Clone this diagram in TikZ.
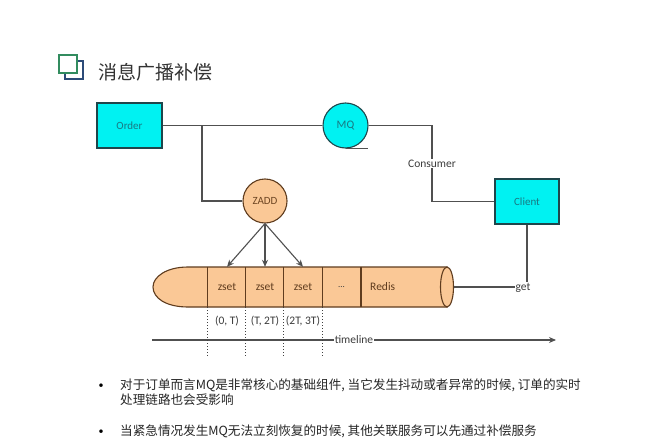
\documentclass[tikz,border=0pt]{standalone}
\usepackage{fontspec}
\setmainfont{Carlito}
\newfontfamily\cjk{Noto Sans CJK SC}
\usetikzlibrary{arrows.meta,positioning}
\definecolor{cyanfill}{RGB}{0,242,242}
\definecolor{cyanline}{RGB}{30,70,75}
\definecolor{cyantext}{RGB}{25,120,130}
\definecolor{orfill}{RGB}{250,200,150}
\definecolor{orline}{RGB}{95,60,30}
\definecolor{ortext}{RGB}{110,70,35}
\definecolor{conn}{RGB}{80,80,80}
\definecolor{lbl}{RGB}{60,60,60}
\definecolor{icgreen}{RGB}{50,140,95}
\definecolor{icblue}{RGB}{45,75,120}
\tikzset{
  cbox/.style={draw=cyanline, line width=1.1pt, fill=cyanfill, minimum width=65pt, minimum height=45pt, inner sep=0pt, text=cyantext, font=\fontsize{11}{13}\selectfont},
  ocirc/.style={circle, draw=orline, line width=1.1pt, fill=orfill, minimum size=44pt, inner sep=0pt, text=ortext, font=\fontsize{11}{13}\selectfont},
  ccirc/.style={circle, draw=cyanline, line width=1.1pt, fill=cyanfill, minimum size=45pt, inner sep=0pt, text=cyantext, font=\fontsize{11.5}{13}\selectfont},
  cell/.style={minimum width=38pt, minimum height=40pt, inner sep=0pt, text=orline, font=\fontsize{11.5}{13}\selectfont},
  conline/.style={draw=conn, line width=1.1pt},
  lab/.style={text=lbl, font=\fontsize{11.5}{13}\selectfont, inner sep=1pt},
  wlab/.style={lab, fill=white},
  arr/.style={draw=conn, line width=1.1pt, -{Stealth[length=7pt,width=6pt]}},
  bul/.style={anchor=west, text=black!85, font=\cjk\fontsize{12.6}{14}\selectfont, inner sep=0pt},
}
\begin{document}
\begin{tikzpicture}[x=1pt,y=-1pt]
\useasboundingbox[fill=white] (0,0) rectangle (650,444);
% icon
\draw[icblue, line width=2.2pt] (65,61) rectangle (83,79);
\draw[icgreen, line width=2.2pt, fill=white] (59,55) rectangle (77,73);
\node[anchor=west, inner sep=0pt, text=black!80, font=\cjk\fontsize{19}{21}\selectfont] (title) at (98,72) {消息广播补偿};
% nodes
\node[cbox] (order) at (129.5,125.5) {Order};
\node[ccirc] (mq) at (345.5,125.5) {MQ};
\node[cbox, minimum width=64pt] (client) at (527,201.5) {Client};
\node[ocirc] (zadd) at (265,201) {ZADD};
% cylinder body
\path[fill=orfill, draw=orline, line width=1.1pt] (447,267) -- (188,267) .. controls (166,267) and (153,277) .. (153,287) .. controls (153,298) and (166,307) .. (188,307) -- (447,307) -- cycle;
\draw[fill=orfill, draw=orline, line width=1.1pt] (447,287) ellipse [x radius=6.5pt, y radius=20pt];
\node[cell] (c1) at (227,287) {zset};
\node[cell] (c2) at (265,287) {zset};
\node[cell] (c3) at (303,287) {zset};
\node[cell, text=lbl] (c4) at (341.5,287) {\fontsize{9}{10}\selectfont ...};
\node[cell, minimum width=86pt, anchor=west, text width=80pt, align=left] (redis) at (361,287) {\hspace*{6pt}Redis};
\foreach \c in {c1,c2,c3,c4}{\draw[orline, line width=1.1pt] (\c.north west) -- (\c.south west);}
\draw[orline, line width=1.1pt] (redis.north west) -- (redis.south west);
\coordinate (cylR) at (453.5,287);
% connectors
\coordinate (j) at (202,125.5);
\draw[conline] (order.east) -- (mq.west);
\draw[conline] (j) |- (zadd.west);
\draw[conline] (mq.south) -- ++(22,0) coordinate (mqtail);
\coordinate (cb) at (432,125.5);
\draw[conline] (mq.east) -- (cb) |- node[pos=0.25, wlab] (cons) {Consumer} (client.west);
\draw[conline] (client.south) |- node[pos=0.5, wlab, xshift=-4pt, yshift=-1pt] (get) {get} (cylR);
\draw[arr] (zadd.south) -- (c1.north);
\draw[arr] (zadd.south) -- (c2.north);
\draw[arr] (zadd.south) -- (c3.north);
% timeline
\coordinate (tlA) at (152,340);
\coordinate (tlB) at (556,340);
\draw[arr] (tlA) -- node[wlab] (tl) {timeline} (tlB);
\coordinate (dotend) at (0,357);
\foreach \c in {c1,c2,c3}{\draw[dotted, line width=1pt, black!75] (\c.south west) -- (\c.south west |- dotend);}
\draw[dotted, line width=1pt, black!75] (c3.south east) -- (c3.south east |- dotend);
\node[lab] (i1) at (227,321) {(0, T)};
\node[lab] (i2) at (265,321) {(T, 2T)};
\node[lab] (i3) at (303,321) {(2T, 3T)};
% bullets
\node[anchor=center, inner sep=0pt, font=\fontsize{10}{12}\selectfont] (b1) at (101,386) {•};
\node[anchor=center, inner sep=0pt, font=\fontsize{10}{12}\selectfont] (b2) at (101,432) {•};
\node[bul] (t1) at (120,385) {对于订单而言MQ是非常核心的基础组件, 当它发生抖动或者异常的时候, 订单的实时};
\node[bul] (t2) at (120,399.5) {处理链路也会受影响};
\node[bul] (t3) at (120,431) {当紧急情况发生MQ无法立刻恢复的时候, 其他关联服务可以先通过补偿服务};
\end{tikzpicture}
\end{document}
